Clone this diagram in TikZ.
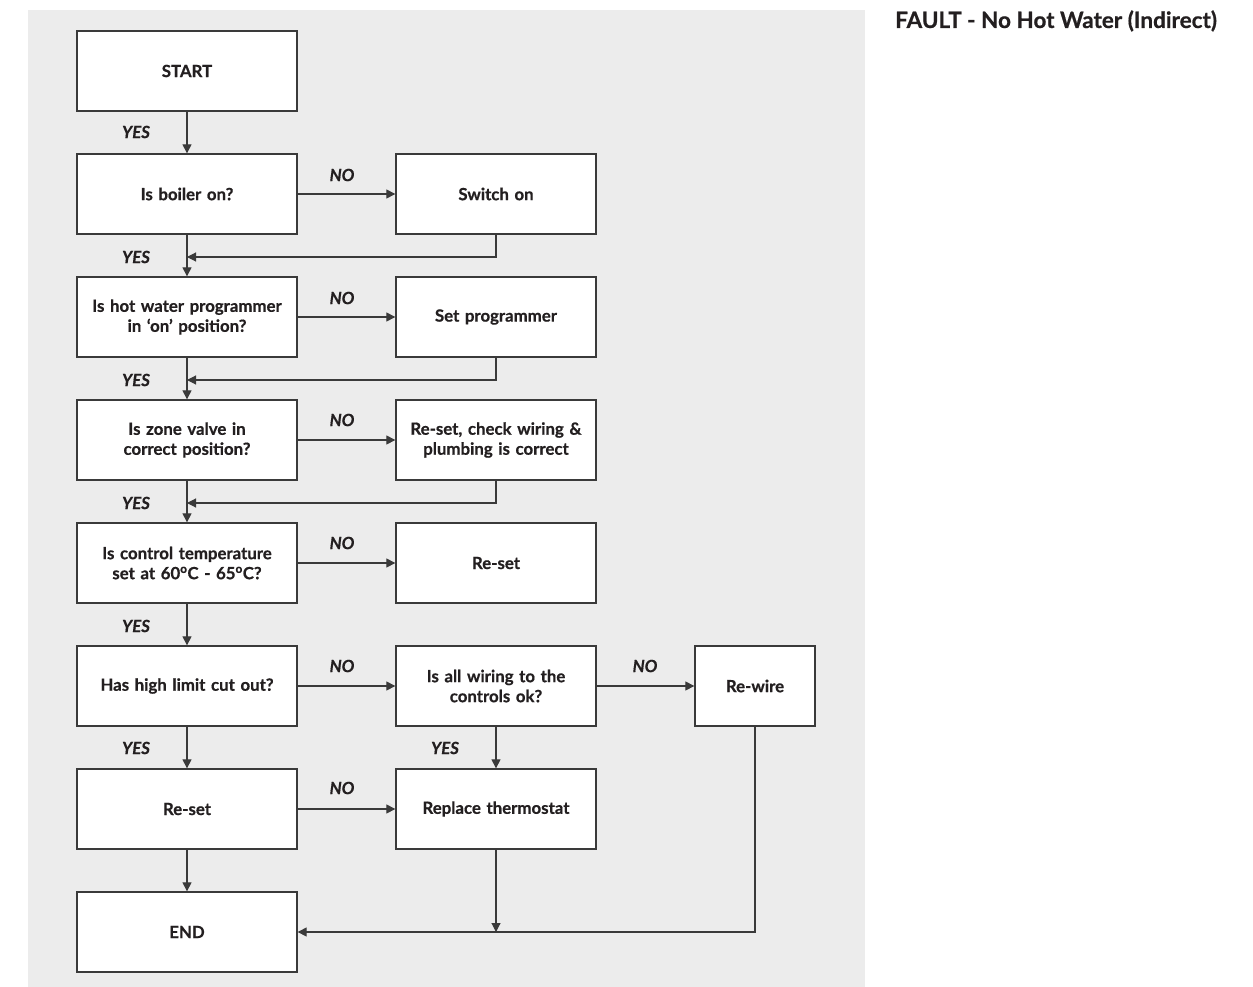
\documentclass[tikz,border=0pt]{standalone}
\usepackage{fontspec}
\setmainfont{Lato}[BoldFeatures={FakeBold=0.6},BoldItalicFeatures={FakeBold=0.6}]
\usetikzlibrary{arrows.meta}
\definecolor{bg}{HTML}{ECECEC}
\definecolor{ln}{HTML}{3A3A3A}
\definecolor{tx}{HTML}{231F20}
\newcommand{\dg}{\textsuperscript{o}}
\begin{document}
\begin{tikzpicture}[x=1pt,y=-1pt,
  box/.style={draw=ln,line width=1.3pt,fill=white,minimum height=80pt,inner sep=0pt,align=center,text=tx,font=\fontsize{16.8}{20}\selectfont\bfseries},
  lbox/.style={box,minimum width=220pt,text width=210pt},
  mbox/.style={box,minimum width=200pt,text width=190pt},
  rbox/.style={box,minimum width=120pt,text width=110pt},
  lab/.style={text=tx,font=\fontsize{16.8}{20}\selectfont\bfseries\itshape,inner sep=0pt},
  arr/.style={draw=ln,line width=1.1pt,-{Triangle[length=9pt,width=9pt]}},
  ln/.style={draw=ln,line width=1.1pt}]
\useasboundingbox (0,0) rectangle (1253,987);
\fill[bg] (28,10) rectangle (865,987);
\node[anchor=base west,text=tx,font=\fontsize{22.5}{24}\selectfont\bfseries,inner sep=0pt] (title) at (895,28) {FAULT - No Hot Water (Indirect)};
% left column
\node[lbox] (start) at (187,71) {START};
\node[lbox] (q1) at (187,194) {Is boiler on?};
\node[lbox] (q2) at (187,317) {Is hot water programmer\\in ‘on’ position?};
\node[lbox] (q3) at (187,440) {Is zone valve in\\correct position?};
\node[lbox] (q4) at (187,563) {Is control temperature\\set at 60\dg C - 65\dg C?};
\node[lbox] (q5) at (187,686) {Has high limit cut out?};
\node[lbox] (rs2) at (187,809) {Re-set};
\node[lbox] (endn) at (187,932) {END};
% middle column
\node[mbox] (a1) at (496,194) {Switch on};
\node[mbox] (a2) at (496,317) {Set programmer};
\node[mbox] (a3) at (496,440) {Re-set, check wiring \&\\plumbing is correct};
\node[mbox] (a4) at (496,563) {Re-set};
\node[mbox] (q6) at (496,686) {Is all wiring to the\\controls ok?};
\node[mbox] (rep) at (496,809) {Replace thermostat};
% right column
\node[rbox] (rw) at (755,686) {Re-wire};
% junction points
\coordinate (j1) at (187,257);
\coordinate (j2) at (187,380);
\coordinate (j3) at (187,503);
\coordinate (jb) at (496,932);
% vertical connectors
\draw[arr] (start) -- (q1);
\draw[arr] (q1) -- (q2);
\draw[arr] (q2) -- (q3);
\draw[arr] (q3) -- (q4);
\draw[arr] (q4) -- (q5);
\draw[arr] (q5) -- (rs2);
\draw[arr] (rs2) -- (endn);
\draw[arr] (q6) -- (rep);
% NO connectors
\draw[arr] (q1) -- (a1);
\draw[arr] (q2) -- (a2);
\draw[arr] (q3) -- (a3);
\draw[arr] (q4) -- (a4);
\draw[arr] (q5) -- (q6);
\draw[arr] (q6) -- (rw);
\draw[arr] (rs2) -- (rep);
% returns
\draw[arr] (a1.south) |- (j1);
\draw[arr] (a2.south) |- (j2);
\draw[arr] (a3.south) |- (j3);
\draw[arr] (rep.south) -- (jb);
\draw[arr] (rw.south) |- (endn.east);
% labels
\node[lab] (y1) at (136,132) {YES};
\node[lab] (y2) at (136,257) {YES};
\node[lab] (y3) at (136,380) {YES};
\node[lab] (y4) at (136,503) {YES};
\node[lab] (y5) at (136,626) {YES};
\node[lab] (y6) at (136,748) {YES};
\node[lab] (y7) at (445,748) {YES};
\node[lab] (n1) at (342,175) {NO};
\node[lab] (n2) at (342,298) {NO};
\node[lab] (n3) at (342,420) {NO};
\node[lab] (n4) at (342,543) {NO};
\node[lab] (n5) at (342,666) {NO};
\node[lab] (n6) at (645,666) {NO};
\node[lab] (n7) at (342,788) {NO};
\end{tikzpicture}
\end{document}
